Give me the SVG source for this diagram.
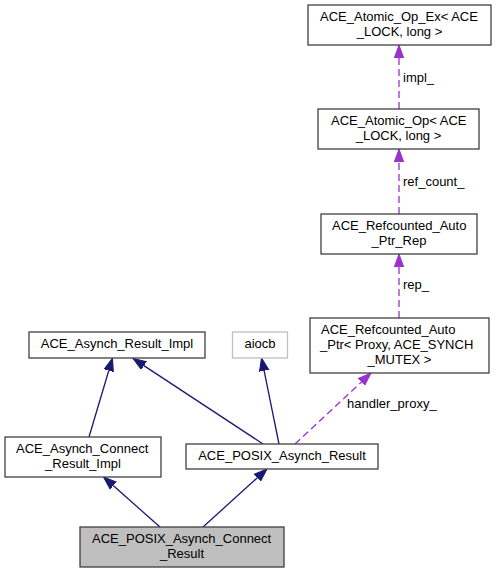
<svg xmlns="http://www.w3.org/2000/svg" width="496" height="573" viewBox="0 0 496 573">
<style>
text{font-family:"Liberation Sans",Arial,sans-serif;font-size:13px;fill:#000}
.m{text-anchor:middle}
.box{fill:#fff;stroke:#404040;stroke-width:1.3}
.inh{fill:none;stroke:#191970;stroke-width:1.3}
.use{fill:none;stroke:#9a32cd;stroke-width:1.3;stroke-dasharray:7,4}
</style>
<defs>
<marker id="ah" markerUnits="userSpaceOnUse" markerWidth="14" markerHeight="12" refX="0" refY="6" orient="auto" viewBox="0 0 14 12">
<path d="M0,1.3 L13,6 L0,10.7 z" fill="#191970" stroke="#191970" stroke-width="1"/>
</marker>
<marker id="au" markerUnits="userSpaceOnUse" markerWidth="14" markerHeight="12" refX="0" refY="6" orient="auto" viewBox="0 0 14 12">
<path d="M0,1.3 L13,6 L0,10.7 z" fill="#9a32cd" stroke="#9a32cd" stroke-width="1"/>
</marker>
</defs>
<rect width="496" height="573" fill="#fff"/>
<g id="connectors">
<path class="inh" d="M89,437 L108.8,370.5" marker-end="url(#ah)"/>
<path class="inh" d="M263,444 L143.9,365.6" marker-end="url(#ah)"/>
<path class="inh" d="M279,444 L264.1,370.7" marker-end="url(#ah)"/>
<path class="inh" d="M160,527 L113.2,485.6" marker-end="url(#ah)"/>
<path class="inh" d="M203,527 L257.4,477.7" marker-end="url(#ah)"/>
<path class="use" d="M399,109 L399,58" marker-end="url(#au)"/>
<path class="use" d="M399,214 L399,162" marker-end="url(#au)"/>
<path class="use" d="M399,318 L399,267" marker-end="url(#au)"/>
<path class="use" d="M295,444 L361.5,381.9" marker-end="url(#au)"/>
<text x="403" y="82">impl_</text>
<text x="403" y="186">ref_count_</text>
<text x="403" y="289">rep_</text>
<text x="347" y="408">handler_proxy_</text>
</g>
<g id="atomic_op_ex">
<rect class="box" x="308" y="5" width="183" height="40"/>
<text x="320" y="21">ACE_Atomic_Op_Ex&lt; ACE</text>
<text class="m" x="399.5" y="36">_LOCK, long &gt;</text>
</g>
<g id="atomic_op">
<rect class="box" x="318" y="109" width="161" height="40"/>
<text x="331" y="125">ACE_Atomic_Op&lt; ACE</text>
<text class="m" x="398.5" y="140">_LOCK, long &gt;</text>
</g>
<g id="refcounted_rep">
<rect class="box" x="321" y="214" width="156" height="40"/>
<text x="332" y="230">ACE_Refcounted_Auto</text>
<text class="m" x="399" y="245">_Ptr_Rep</text>
</g>
<g id="refcounted_ptr">
<rect class="box" x="310" y="318" width="179" height="55"/>
<text x="321" y="334">ACE_Refcounted_Auto</text>
<text x="320" y="349">_Ptr&lt; Proxy, ACE_SYNCH</text>
<text class="m" x="399.5" y="364">_MUTEX &gt;</text>
</g>
<g id="asynch_result_impl">
<rect class="box" x="29" y="332" width="176" height="26"/>
<text class="m" x="117" y="348">ACE_Asynch_Result_Impl</text>
</g>
<g id="aiocb">
<rect x="232.5" y="332" width="55" height="26" fill="#fff" stroke="#bfbfbf" stroke-width="1.3"/>
<text class="m" x="260" y="348">aiocb</text>
</g>
<g id="asynch_connect_result_impl">
<rect class="box" x="5" y="437" width="156" height="40"/>
<text x="16" y="453">ACE_Asynch_Connect</text>
<text class="m" x="83" y="468">_Result_Impl</text>
</g>
<g id="posix_asynch_result">
<rect class="box" x="186" y="444" width="192" height="25"/>
<text class="m" x="282" y="460">ACE_POSIX_Asynch_Result</text>
</g>
<g id="posix_asynch_connect_result">
<rect x="80" y="527" width="204" height="40" fill="#bfbfbf" stroke="#404040" stroke-width="1.3"/>
<text x="92" y="543">ACE_POSIX_Asynch_Connect</text>
<text class="m" x="182" y="558">_Result</text>
</g>
</svg>
